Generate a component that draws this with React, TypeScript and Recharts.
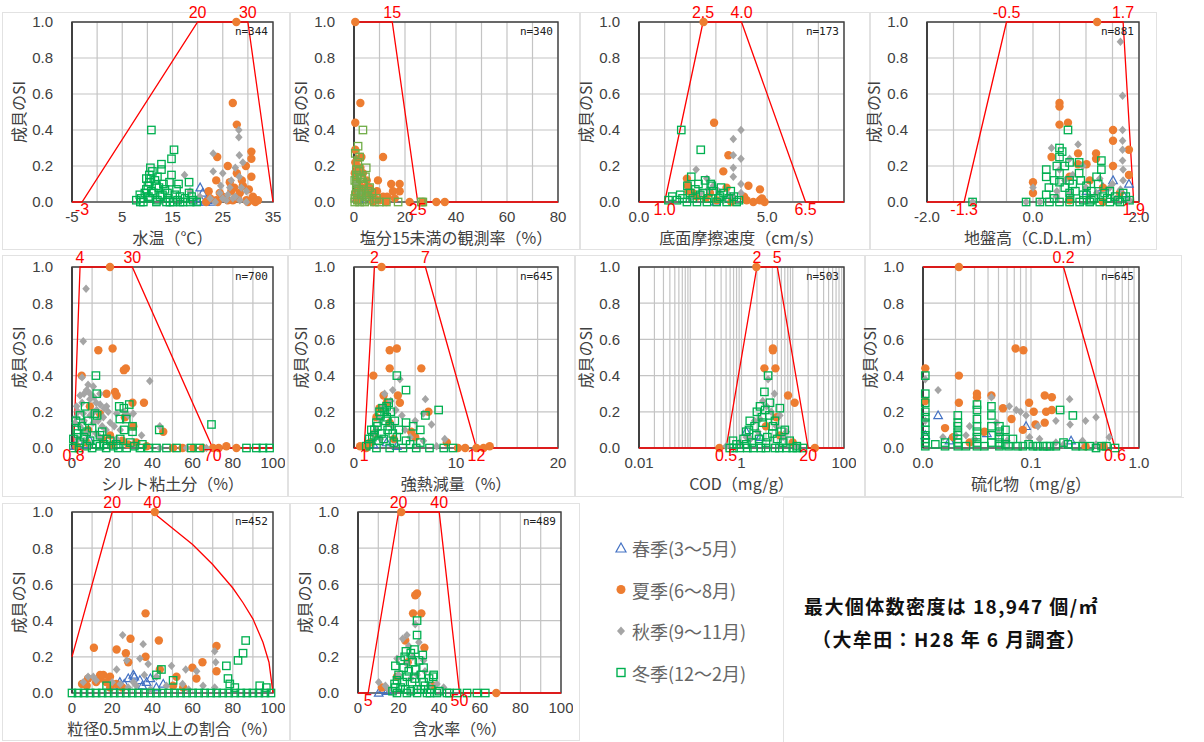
import React from "react";
import {
  ScatterChart,
  Scatter,
  XAxis,
  YAxis,
  CartesianGrid,
  ReferenceArea,
  ReferenceDot,
} from "recharts";

type Pt = [number, number];

const JP = '"Noto Sans CJK JP", "Liberation Sans", sans-serif';
const NUM = '"Liberation Sans", Arial, sans-serif';

const C_SPRING = "#4472C4";
const C_SUMMER = "#ED7D31";
const C_AUTUMN = "#A5A5A5";
const C_WINTER = "#00B050";
const C_SI = "#FF0000";

const yTicks = [0, 0.2, 0.4, 0.6, 0.8, 1.0];
const seasonNames = ["春季(3～5月）", "夏季(6～8月)", "秋季(9～11月)", "冬季(12～2月)"];

// ---------- 1. 水温 ----------
const p1Ticks = [-5, 0, 5, 10, 15, 20, 25, 30, 35];
const p1Labels = [-5, 5, 15, 25, 35];
const p1Si: Pt[] = [[-5, 0], [-3, 0], [20, 1], [30, 1], [35, 0]];
const p1Spring: Pt[] = [[20.5, 0.08], [21, 0.05], [20.5, 0.02], [21.5, 0], [22, 0.01], [20, 0], [23, 0]];
const p1Summer: Pt[] = [[27.7, 1], [27, 0.55], [27.8, 0.43], [30.7, 0.28], [30.7, 0.24], [23.9, 0.25], [29.6, 0.2], [23.7, 0.12], [27.8, 0.16], [26.4, 0.11], [30.7, 0.14], [29, 0.09], [22.2, 0.06], [24.4, 0.05], [26.7, 0.06], [28.4, 0.05], [31, 0.03], [31, 0.01], [29.7, 0.01], [27, 0.01], [23.7, 0.01], [21.7, 0], [25.5, 0.02], [28.8, 0.12], [30.2, 0.07], [22.5, 0.02], [24, 0], [25, 0.03], [26, 0.01], [28, 0.02], [30, 0], [31.5, 0], [32, 0.01], [26, 0.2], [27.3, 0.08]];
const p1Autumn: Pt[] = [[28.2, 0.4], [28.2, 0.36], [23.1, 0.27], [28.3, 0.26], [23.1, 0.17], [17.4, 0.15], [25, 0.16], [26.7, 0.12], [28.3, 0.14], [26.4, 0.08], [24.4, 0.05], [29.7, 0.06], [20.4, 0.03], [27, 0.02], [25.7, 0.01], [28.4, 0.01], [29.7, 0], [22.5, 0.02], [27.5, 0.19], [18.5, 0.06], [23.5, 0], [25, 0.02], [26, 0.04], [27.5, 0.03], [28.7, 0.08], [29, 0.22], [24.6, 0.09]];
const p1Winter: Pt[] = [[10.8, 0.4], [15.3, 0.29], [14.8, 0.24], [12.8, 0.21], [12.8, 0.18], [10.6, 0.19], [10.4, 0.15], [14.8, 0.15], [18.3, 0.11], [14.4, 0.11], [10.4, 0.11], [11.8, 0.09], [9.8, 0.07], [13.5, 0.07], [15.8, 0.07], [18.3, 0.05], [8.5, 0.04], [11.2, 0.05], [16.5, 0.03], [19.1, 0.01], [7.8, 0.01], [9.2, 0], [11.8, 0], [13.8, 0], [15.1, 0], [17.1, 0], [19.8, 0], [10.5, 0.02], [9.8, 0.13], [10.1, 0.09], [12, 0.14], [13, 0.04], [8.8, 0.02], [9.5, 0.05], [10.2, 0.03], [10.8, 0.06], [11.5, 0.12], [12.3, 0.08], [12.5, 0.03], [13.2, 0.1], [14, 0.05], [14.2, 0.02], [15.5, 0.04], [16, 0.01], [17.5, 0.02], [18.8, 0.03], [11, 0.17], [10.7, 0.13], [16.2, 0.1], [12, 0.01], [14.5, 0], [16.5, 0], [18.5, 0], [8.6, 0]];

// ---------- 2. 塩分15未満の観測率 ----------
const p2Ticks = [0, 10, 20, 30, 40, 50, 60, 70, 80];
const p2Labels = [0, 20, 40, 60, 80];
const p2Si: Pt[] = [[0, 1], [15, 1], [25, 0], [80, 0]];
const p2Spring: Pt[] = [[1, 0.02], [2, 0.01]];
const p2Summer: Pt[] = [[0.5, 1], [2.5, 0.55], [0.5, 0.44], [11.4, 0.25], [2.9, 0.25], [0.5, 0.29], [1, 0.2], [3.5, 0.16], [9.4, 0.12], [14.6, 0.1], [17.9, 0.1], [17.9, 0.06], [15.3, 0.06], [6.1, 0.08], [7.5, 0.05], [11.4, 0.03], [21.8, 0], [27, 0], [32.3, 0], [35.6, 0], [12.7, 0], [7.5, 0], [1, 0.01], [1.6, 0.08], [0.3, 0.16], [0.5, 0.05], [1, 0.12], [2, 0.1], [3, 0.05], [4, 0.08], [5, 0.12], [6, 0.04], [8, 0.02], [9, 0.06], [10, 0.01], [1.5, 0.24], [0.5, 0.22], [2.5, 0.19], [13, 0.03], [16, 0.02]];
const p2Autumn: Pt[] = [[0.5, 0.1], [2, 0.05], [4, 0.02]];
const p2Winter: Pt[] = [[3.5, 0.4], [1.6, 0.31], [2.2, 0.25], [4.8, 0.19], [0.9, 0.14], [3.5, 0.11], [6.1, 0.08], [0.9, 0.06], [2.9, 0.04], [4.8, 0.03], [8.8, 0.02], [0.3, 0], [2.2, 0], [12.7, 0], [17.3, 0], [26.4, 0], [27, 0], [4.2, 0], [0.9, 0.09], [0.9, 0.18], [1.5, 0.22], [3, 0.13], [5.5, 0.06], [0.3, 0.02], [0.6, 0.04], [1, 0.11], [1.2, 0.15], [1.8, 0.07], [2.5, 0.13], [3, 0.06], [3.8, 0.09], [4.5, 0.14], [5, 0.03], [6, 0.01], [7, 0.05], [0.5, 0.27], [2, 0.17], [0.3, 0.12], [1.3, 0.01], [3.2, 0.01], [8, 0], [10, 0]];

// ---------- 3. 底面摩擦速度 ----------
const p3Ticks = [0, 1, 2, 3, 4, 5, 6, 7, 8];
const p3Labels = [0, 5];
const p3Si: Pt[] = [[0, 0], [1, 0], [2.5, 1], [4, 1], [6.5, 0], [8, 0]];
const p3Spring: Pt[] = [[3.5, 0.02], [3, 0]];
const p3Summer: Pt[] = [[2.52, 1], [2.93, 0.44], [3.49, 0.26], [3.29, 0.17], [4.72, 0.07], [4.27, 0.09], [1.87, 0.13], [1.93, 0.06], [3.42, 0.08], [4.2, 0.01], [4.46, 0], [4.72, 0.01], [2.77, 0.05], [3.03, 0.01], [2.26, 0.03], [1.9, 0.09], [2.1, 0.05], [4.9, 0], [4.8, 0.02], [2.6, 0.02], [3.6, 0], [4.1, 0.03]];
const p3Autumn: Pt[] = [[3.98, 0.4], [3.68, 0.35], [3.68, 0.26], [3.98, 0.24], [3.68, 0.19], [2.23, 0.18], [3.68, 0.14], [3.98, 0.1], [3.98, 0.05], [2.65, 0.13], [2.9, 0.09], [3.68, 0.03], [3.29, 0.01], [2.4, 0.05], [2.7, 0.07], [3.1, 0.06], [3.5, 0.04], [2, 0.02]];
const p3Winter: Pt[] = [[1.65, 0.4], [2.41, 0.29], [2.04, 0.14], [1.89, 0.09], [2.32, 0.1], [2.58, 0.12], [2.84, 0.09], [3.58, 0.06], [1.15, 0.01], [1.48, 0.01], [1.87, 0], [2.26, 0], [2.65, 0], [3.03, 0], [3.42, 0], [3.81, 0], [3.16, 0.03], [2.39, 0.04], [1.61, 0.04], [1.3, 0.03], [1.7, 0.02], [2, 0.05], [2.2, 0.07], [2.5, 0.05], [2.7, 0.02], [2.9, 0.06], [3.1, 0.02], [3.3, 0.05], [3.5, 0.02], [3.7, 0.03], [3.9, 0.01], [2.1, 0.02], [2.8, 0.1], [3.2, 0.08]];

// ---------- 4. 地盤高 ----------
const p4Ticks = [-2, -1.5, -1, -0.5, 0, 0.5, 1, 1.5, 2];
const p4Labels = [-2, 0, 2];
const p4Si: Pt[] = [[-2, 0], [-1.3, 0], [-0.5, 1], [1.7, 1], [1.9, 0], [2, 0]];
const p4Spring: Pt[] = [[1.51, 0.12], [1.81, 0.1], [1.32, 0.08], [1.01, 0.06], [1.7, 0.04]];
const p4Summer: Pt[] = [[1.21, 1], [0.5, 0.55], [0.5, 0.53], [0.5, 0.43], [0.66, 0.44], [1.51, 0.4], [1.51, 0.34], [1.81, 0.29], [1.51, 0.2], [1.19, 0.27], [1.19, 0.24], [0.85, 0.27], [0.85, 0.21], [1.01, 0.21], [1.81, 0.15], [0, 0.11], [0.35, 0.25], [0.69, 0.14], [1.07, 0.12], [1.32, 0.08], [1.64, 0.05], [0, 0.05], [0.69, 0.01], [1.32, 0]];
const p4Autumn: Pt[] = [[1.65, 0.89], [1.69, 0.59], [1.69, 0.4], [1.69, 0.34], [1.69, 0.29], [1.69, 0.23], [1.7, 0.18], [0.85, 0.32], [0.35, 0.3], [0.69, 0.24], [0.94, 0.2], [1.26, 0.13], [1.45, 0.08], [0, 0.08], [-1.14, 0], [-0.13, 0], [0.13, 0], [0.44, 0.03], [0.69, 0.05], [1.07, 0.03], [1.57, 0.02], [1.82, 0.01], [0.5, 0.18], [0.6, 0.12], [0.75, 0.15], [1, 0.08], [1.2, 0.05], [1.5, 0.1], [1.7, 0.12], [1.65, 0.07], [0.45, 0.06]];
const p4Winter: Pt[] = [[0.66, 0.4], [0.5, 0.3], [0.5, 0.25], [0.69, 0.22], [0.87, 0.22], [1.29, 0.23], [1.29, 0.18], [0.25, 0.18], [0.25, 0.14], [0.5, 0.16], [0.5, 0.11], [0.69, 0.12], [0.87, 0.16], [1.01, 0.09], [1.23, 0.1], [1.45, 0.06], [1.7, 0.05], [-1.14, 0], [-0.13, 0], [0.13, 0], [0.31, 0], [0.5, 0], [0.69, 0], [0.88, 0], [1.07, 0], [1.26, 0], [1.45, 0], [1.64, 0], [1.82, 0.01], [0.25, 0.04], [0.69, 0.05], [1.01, 0.04], [1.32, 0.03], [0.3, 0.08], [0.4, 0.12], [0.45, 0.2], [0.55, 0.28], [0.6, 0.2], [0.6, 0.08], [0.75, 0.1], [0.8, 0.06], [0.9, 0.12], [0.95, 0.04], [1.1, 0.06], [1.15, 0.02], [1.2, 0.14], [1.35, 0.05], [1.4, 0.02], [1.55, 0.03], [1.6, 0.01], [1.75, 0.03], [0.4, 0.02], [0.7, 0.02], [0.95, 0.01], [1.1, 0.01]];

// ---------- 5. シルト粘土分 ----------
const p5Ticks = [0, 10, 20, 30, 40, 50, 60, 70, 80, 90, 100];
const p5Labels = [0, 20, 40, 60, 80, 100];
const p5Si: Pt[] = [[0, 0], [0.8, 0], [4, 1], [30, 1], [70, 0], [100, 0]];
const p5Spring: Pt[] = [[1.5, 0.01], [5.6, 0.02], [8.9, 0.04]];
const p5Summer: Pt[] = [[18.9, 1], [13.1, 0.54], [20.2, 0.55], [26.8, 0.44], [25.8, 0.43], [4.8, 0.4], [21.4, 0.31], [22.2, 0.29], [30.1, 0.25], [35.8, 0.25], [17.2, 0.3], [8.9, 0.23], [13.9, 0.19], [26.3, 0.17], [45.4, 0.09], [30.5, 0.12], [18.9, 0.07], [37.1, 0.01], [50.3, 0], [60.3, 0], [70.2, 0], [76.8, 0.01], [81.8, 0], [7.3, 0.03], [2.3, 0.01], [8, 0.1], [15, 0.05], [20, 0.02], [25, 0.04], [28, 0.02], [32, 0.03], [55, 0], [65, 0], [73, 0]];
const p5Autumn: Pt[] = [[7, 0.88], [5.6, 0.59], [38.7, 0.37], [43.7, 0.12], [34.6, 0.07], [4, 0.29], [7.3, 0.32], [10.6, 0.34], [13.9, 0.3], [8.9, 0.27], [2.3, 0.23], [5.6, 0.19], [12.3, 0.21], [17.2, 0.23], [15.6, 0.17], [10.6, 0.14], [4, 0.12], [1.5, 0.14], [22.2, 0.19], [30.5, 0.19], [7.3, 0.08], [13.9, 0.06], [22.2, 0.05], [43.7, 0], [57, 0], [66.9, 0], [3, 0.2], [5, 0.25], [6, 0.3], [8, 0.35], [9, 0.3], [11, 0.28], [12, 0.25], [14, 0.24], [16, 0.22], [18, 0.2], [6, 0.15], [9, 0.18], [11, 0.2], [13, 0.15], [15, 0.12], [17, 0.1], [19, 0.14], [21, 0.12], [24, 0.1], [26, 0.2], [28, 0.18], [3, 0.05], [6, 0.04], [9, 0.02], [12, 0.08], [5, 0.39], [2, 0.17]];
const p5Winter: Pt[] = [[11.9, 0.4], [12.3, 0.3], [23.5, 0.23], [28.5, 0.24], [25.8, 0.22], [6.5, 0.23], [4, 0.18], [11.4, 0.19], [23.8, 0.16], [30.1, 0.12], [30.1, 0.09], [43.4, 0.1], [69.4, 0.13], [2.3, 0.1], [7.3, 0.09], [13.9, 0.07], [17.2, 0.05], [0.7, 0.05], [4, 0.03], [7.3, 0.01], [13.9, 0.01], [20.5, 0.01], [27.2, 0], [33.8, 0], [42, 0], [47, 0], [52, 0], [59.4, 0], [63.6, 0], [86.8, 0], [91.7, 0], [95, 0], [98.3, 0], [0.7, 0], [2, 0.15], [3, 0.08], [5, 0.12], [6, 0.06], [8, 0.15], [9, 0.04], [10, 0.11], [12, 0.02], [15, 0.09], [16, 0.02], [19, 0.04], [22, 0.02], [24, 0.05], [26, 0.1], [29, 0.03], [31, 0.01], [35, 0.02], [38, 0], [3.5, 0], [10, 0], [17, 0], [23, 0], [12.5, 0.18], [27, 0.16]];

// ---------- 6. 強熱減量 ----------
const p6Ticks = [0, 2, 4, 6, 8, 10, 12, 14, 16, 18, 20];
const p6Labels = [0, 10, 20];
const p6Si: Pt[] = [[0, 0], [1, 0], [2, 1], [7, 1], [12, 0], [20, 0]];
const p6Spring: Pt[] = [[1.9, 0.02], [3.2, 0.03], [4.2, 0.01]];
const p6Summer: Pt[] = [[2.7, 1], [1.9, 0.4], [3.5, 0.54], [4.2, 0.55], [3.5, 0.44], [6.6, 0.44], [2.9, 0.29], [4.3, 0.29], [4.5, 0.25], [7.3, 0.2], [5.6, 0.09], [2.2, 0.17], [3.5, 0.14], [0.6, 0.01], [10.2, 0], [10.9, 0], [12, 0], [12.7, 0], [13.3, 0.01], [9.1, 0.03], [2, 0.08], [2.5, 0.22], [3.2, 0.25], [3.9, 0.05], [1.2, 0], [1.6, 0.03], [6, 0.06]];
const p6Autumn: Pt[] = [[3.8, 0.32], [4.5, 0.38], [7, 0.27], [6.8, 0.19], [7.6, 0.13], [8.9, 0.05], [4.7, 0.18], [2.9, 0.23], [2.5, 0.16], [3.8, 0.12], [5.5, 0.06], [6.8, 0.04], [8.1, 0.01], [1.9, 0.08], [2.2, 0.1], [3, 0.3], [3.2, 0.2], [3.6, 0.26], [4.1, 0.21], [2.6, 0.05], [5, 0.1], [6, 0.15]];
const p6Winter: Pt[] = [[4.2, 0.4], [5.1, 0.32], [3.2, 0.23], [3.4, 0.25], [2.5, 0.2], [8.3, 0.21], [7, 0.18], [5.1, 0.14], [5.8, 0.12], [6.5, 0.1], [1.7, 0.1], [2.2, 0.14], [3.2, 0.17], [3.5, 0.12], [2.7, 0.08], [4.2, 0.06], [1.5, 0.05], [5.1, 0.04], [1.2, 0.01], [2.2, 0], [3.5, 0], [4.8, 0], [6.1, 0], [7.4, 0], [8.8, 0], [9.7, 0], [1.5, 0.02], [1.8, 0.06], [2, 0.1], [2.3, 0.12], [2.6, 0.18], [2.8, 0.22], [3, 0.2], [3.1, 0.15], [3.3, 0.1], [3.6, 0.2], [3.8, 0.08], [4, 0.15], [4.4, 0.1], [2.4, 0.04], [3.9, 0.03], [5.5, 0.02], [6.5, 0.03], [2, 0.07], [2.9, 0.05]];

// ---------- 7. COD (log) ----------
const p7Ticks = [0.01, 0.02, 0.03, 0.04, 0.05, 0.06, 0.07, 0.08, 0.09, 0.1, 0.2, 0.3, 0.4, 0.5, 0.6, 0.7, 0.8, 0.9, 1, 2, 3, 4, 5, 6, 7, 8, 9, 10, 20, 30, 40, 50, 60, 70, 80, 90, 100];
const p7Labels = [0.01, 1, 100];
const p7Si: Pt[] = [[0.01, 0], [0.5, 0], [2, 1], [5, 1], [20, 0], [100, 0]];
const p7Spring: Pt[] = [[1.24, 0.09], [2.3, 0.06]];
const p7Summer: Pt[] = [[1.95, 1], [4.1, 0.55], [4.1, 0.54], [2.8, 0.44], [4.6, 0.44], [8.1, 0.29], [10.9, 0.25], [4.8, 0.17], [5.6, 0.07], [0.37, 0], [27, 0], [10, 0.03], [3, 0.12]];
const p7Autumn: Pt[] = [[3.3, 0.38], [4.4, 0.3], [3.1, 0.23], [5.6, 0.18], [2.3, 0.16], [7.5, 0.09], [1.24, 0.06], [0.92, 0.03], [11.7, 0.01], [0.5, 0.01], [1.8, 0.15], [2.6, 0.26], [3.8, 0.2], [4.8, 0.12], [2.1, 0.09], [1.5, 0.05], [6.5, 0.06]];
const p7Winter: Pt[] = [[3.3, 0.4], [2.8, 0.31], [3.6, 0.25], [2.3, 0.23], [5.6, 0.22], [1.45, 0.15], [1.24, 0.09], [2.6, 0.14], [4.1, 0.12], [6, 0.09], [1.95, 0.07], [0.68, 0.04], [8.7, 0.04], [0.59, 0], [0.92, 0], [1.7, 0], [3, 0], [5.5, 0], [10, 0], [15.8, 0], [1.24, 0.02], [3, 0.03], [0.8, 0.02], [1.1, 0.05], [1.4, 0.1], [1.8, 0.12], [2, 0.2], [2.5, 0.17], [2.9, 0.21], [3.5, 0.18], [4, 0.08], [4.5, 0.15], [5, 0.05], [6.5, 0.03], [7, 0.1], [1.6, 0.03], [2.2, 0.05], [3.2, 0.06], [12, 0.01], [0.7, 0], [1.3, 0], [2.4, 0], [4.5, 0], [7.5, 0], [12, 0]];

// ---------- 8. 硫化物 (log) ----------
const p8Ticks = [0.01, 0.02, 0.03, 0.04, 0.05, 0.06, 0.07, 0.08, 0.09, 0.1, 0.2, 0.3, 0.4, 0.5, 0.6, 0.7, 0.8, 0.9, 1];
const p8Labels = [0.01, 0.1, 1];
const p8Si: Pt[] = [[0.01, 1], [0.2, 1], [0.6, 0], [1, 0]];
const p8Spring: Pt[] = [[0.0138, 0.18], [0.0105, 0.07], [0.09, 0.12], [0.235, 0.04], [0.039, 0.08], [0.0176, 0.04]];
const p8Summer: Pt[] = [[0.0215, 1], [0.0105, 0.44], [0.0215, 0.4], [0.0215, 0.25], [0.0105, 0.26], [0.072, 0.55], [0.085, 0.54], [0.0316, 0.3], [0.0316, 0.28], [0.043, 0.29], [0.055, 0.22], [0.096, 0.25], [0.106, 0.2], [0.134, 0.29], [0.156, 0.28], [0.138, 0.2], [0.156, 0.21], [0.134, 0.14], [0.11, 0.13], [0.066, 0.16], [0.016, 0.11], [0.019, 0.06], [0.037, 0.09], [0.084, 0.1], [0.32, 0.01], [0.47, 0.01], [0.027, 0.03]];
const p8Autumn: Pt[] = [[0.0138, 0.32], [0.0105, 0.38], [0.025, 0.07], [0.043, 0.28], [0.063, 0.23], [0.073, 0.21], [0.228, 0.27], [0.17, 0.15], [0.23, 0.13], [0.32, 0.15], [0.4, 0.17], [0.53, 0.06], [0.116, 0.12], [0.048, 0.14], [0.027, 0.12], [0.0153, 0.06], [0.097, 0.06], [0.17, 0.03], [0.0105, 0.15], [0.02, 0.07], [0.03, 0.05], [0.05, 0.08], [0.06, 0.04], [0.08, 0.2], [0.09, 0.18], [0.12, 0.05], [0.2, 0.02], [0.3, 0.04], [0.4, 0.02]];
const p8Winter: Pt[] = [[0.0105, 0.4], [0.0105, 0.3], [0.0105, 0.25], [0.0105, 0.17], [0.0105, 0.1], [0.0105, 0.05], [0.0105, 0.01], [0.021, 0.18], [0.021, 0.14], [0.021, 0.09], [0.021, 0.05], [0.021, 0.01], [0.0316, 0.24], [0.0316, 0.21], [0.0316, 0.12], [0.0316, 0.06], [0.0316, 0.01], [0.043, 0.23], [0.043, 0.18], [0.051, 0.12], [0.051, 0.06], [0.051, 0.01], [0.016, 0.03], [0.068, 0.05], [0.084, 0.01], [0.104, 0.01], [0.13, 0.01], [0.15, 0.01], [0.186, 0.21], [0.244, 0.18], [0.2, 0.03], [0.3, 0.01], [0.4, 0], [0.6, 0], [0.0105, 0.14], [0.0105, 0.2], [0.0105, 0.07], [0.0105, 0.03], [0.021, 0.12], [0.021, 0.07], [0.021, 0.03], [0.0316, 0.16], [0.0316, 0.09], [0.0316, 0.03], [0.043, 0.12], [0.043, 0.07], [0.043, 0.03], [0.051, 0.09], [0.051, 0.03], [0.058, 0.1], [0.058, 0.05], [0.058, 0.02], [0.013, 0.02], [0.016, 0.01], [0.025, 0.01], [0.037, 0.01], [0.062, 0.01], [0.075, 0.01], [0.095, 0.02], [0.115, 0.01], [0.14, 0.01], [0.17, 0.01], [0.22, 0.02], [0.26, 0.01], [0.35, 0.01], [0.45, 0.01], [0.5, 0.01]];

// ---------- 9. 粒径0.5mm以上の割合 ----------
const p9Ticks = [0, 10, 20, 30, 40, 50, 60, 70, 80, 90, 100];
const p9Labels = [0, 20, 40, 60, 80, 100];
const p9Si: Pt[] = [[0, 0.2], [20, 1], [40, 1], [50, 0.91], [60, 0.82], [70, 0.71], [80, 0.58], [85, 0.5], [90, 0.41], [95, 0.28], [98, 0.17], [100, 0]];
const p9Spring: Pt[] = [[30.5, 0.1], [28, 0.08], [33.8, 0.07], [37.1, 0.06], [23.8, 0.06], [45.4, 0.05], [20.5, 0.04], [26, 0.05], [31, 0.09], [35, 0.04], [39, 0.08], [42, 0.03]];
const p9Summer: Pt[] = [[41.2, 1], [36.6, 0.44], [43.2, 0.29], [29.1, 0.3], [10.9, 0.25], [22.2, 0.24], [26.8, 0.22], [36.6, 0.2], [71.9, 0.26], [64.9, 0.17], [59.9, 0.14], [61.9, 0.08], [28, 0.17], [15.6, 0.1], [18.9, 0.09], [13.9, 0.08], [7.3, 0.04], [71.9, 0.12], [52, 0.09], [43.7, 0.13], [55.3, 0.03], [50.3, 0.04], [5, 0.05], [8, 0.08], [12, 0.06], [14, 0.1], [17, 0.06], [19, 0.03], [22, 0.05], [25, 0.03]];
const p9Autumn: Pt[] = [[25.2, 0.32], [35.4, 0.27], [33.8, 0.19], [27.2, 0.18], [22.2, 0.13], [37.9, 0.16], [49.5, 0.15], [56.6, 0.13], [71, 0.23], [71.5, 0.17], [10.6, 0.09], [5.6, 0.06], [30.5, 0.06], [42, 0.09], [47, 0.04], [65.2, 0.04], [71, 0.03], [8, 0.09], [12, 0.07], [20, 0.06], [24, 0.05], [28, 0.03], [32, 0.04], [36, 0.1], [39, 0.02], [55, 0.05], [58, 0.02], [62, 0.12]];
const p9Winter: Pt[] = [[86.4, 0.29], [85.1, 0.22], [82.6, 0.18], [76.8, 0.15], [77.6, 0.08], [78.5, 0.05], [42, 0.1], [44.5, 0.13], [50.3, 0.07], [17.2, 0.04], [93.4, 0.04], [96.7, 0.03], [81, 0.03], [0, 0], [3, 0], [6, 0], [9, 0], [12, 0], [15, 0], [18, 0], [21, 0], [24, 0], [27, 0], [30, 0], [33, 0], [36, 0], [39, 0], [42, 0], [45, 0], [48, 0], [51, 0], [54, 0], [57, 0], [60, 0], [63, 0], [66, 0], [69, 0], [72, 0], [75, 0], [78, 0], [81, 0], [84, 0], [87, 0], [90, 0], [93, 0], [96, 0], [99, 0]];

// ---------- 10. 含水率 ----------
const p10Ticks = [0, 10, 20, 30, 40, 50, 60, 70, 80, 90, 100];
const p10Labels = [0, 20, 40, 60, 80, 100];
const p10Si: Pt[] = [[0, 0], [5, 0], [20, 1], [40, 1], [50, 0], [100, 0]];
const p10Spring: Pt[] = [[10.2, 0], [12.3, 0.02], [14.3, 0.01]];
const p10Summer: Pt[] = [[21.3, 1], [29.1, 0.55], [28.2, 0.54], [27.1, 0.44], [31.2, 0.44], [23.3, 0.29], [32.7, 0.25], [24.5, 0.17], [11.8, 0.03], [68.1, 0], [37.3, 0.04], [19.2, 0.09]];
const p10Autumn: Pt[] = [[24.1, 0.32], [28.2, 0.38], [19.2, 0.19], [24.1, 0.16], [10.2, 0.06], [13.5, 0.04], [38.9, 0.05], [32.3, 0.18], [29.1, 0.1], [42.2, 0.03], [22, 0.3], [25, 0.26], [27, 0.2], [30, 0.28], [20, 0.1], [26, 0.08], [33, 0.12], [35, 0.04], [15, 0.02]];
const p10Winter: Pt[] = [[29.1, 0.4], [29.1, 0.32], [23.6, 0.23], [27.8, 0.24], [31.9, 0.21], [18.4, 0.15], [22.5, 0.14], [28.2, 0.13], [32.3, 0.14], [37.3, 0.1], [37, 0.09], [24.1, 0.09], [19.2, 0.07], [26.6, 0.06], [32.3, 0.06], [18.4, 0.03], [23.3, 0.02], [29.1, 0.02], [19.2, 0], [24.1, 0], [29.1, 0], [34, 0], [38.9, 0], [43.8, 0], [48.8, 0], [53.7, 0], [58.6, 0], [62.7, 0], [18, 0.05], [20, 0.1], [21, 0.18], [22, 0.06], [23, 0.2], [25, 0.12], [26, 0.22], [27, 0.17], [28, 0.08], [30, 0.18], [31, 0.1], [33, 0.04], [35, 0.08], [36, 0.02], [17, 0.01], [21, 0.03], [26, 0.01], [31, 0.02], [35.5, 0], [40, 0.01], [45, 0]];

const toXY = (a: Pt[]) => a.map(([x, y]) => ({ x, y }));

const TriShape = (p: any) => (
  <path d={`M${p.cx},${p.cy - 4.5}L${p.cx + 4.3},${p.cy + 3.2}L${p.cx - 4.3},${p.cy + 3.2}Z`} fill="none" stroke={C_SPRING} strokeWidth={1.2} />
);
const CircleShape = (p: any) => <circle cx={p.cx} cy={p.cy} r={4.2} fill={C_SUMMER} />;
const DiamondShape = (p: any) => (
  <path d={`M${p.cx},${p.cy - 4.2}L${p.cx + 3.8},${p.cy}L${p.cx},${p.cy + 4.2}L${p.cx - 3.8},${p.cy}Z`} fill={C_AUTUMN} />
);
const squareShape = (c: string) => (p: any) => (
  <rect x={p.cx - 3.7} y={p.cy - 3.7} width={7.4} height={7.4} fill="none" stroke={c} strokeWidth={1.3} />
);
const NoShape = () => <g />;

interface PanelCfg {
  left: number;
  top: number;
  w: number;
  h: number;
  domain: [number, number];
  ticks: number[];
  labels: number[];
  fmt: (v: number) => string;
  log?: boolean;
  si: Pt[];
  spring: Pt[];
  summer: Pt[];
  autumn: Pt[];
  winter: Pt[];
  winterColor?: string;
  topMarks: [number, string][];
  bottomMarks: [number, string][];
  xLabel: string;
  n: number;
}

function Panel(p: PanelCfg) {
  const W = p.w + 84;
  const H = p.h + 22 + 50;
  const show = (v: number) => p.labels.some((l) => Math.abs(l - v) < Math.abs(l) * 1e-6 + 1e-9);
  return (
    <div style={{ position: "absolute", left: p.left - 72, top: p.top - 22 }}>
      <ScatterChart width={W} height={H} margin={{ top: 22, right: 12, bottom: 0, left: 0 }}>
        <CartesianGrid stroke="#c4c4c4" strokeWidth={1.2} />
        <XAxis
          type="number"
          dataKey="x"
          domain={p.domain}
          scale={p.log ? "log" : "linear"}
          ticks={p.ticks}
          interval={0}
          tickFormatter={(v: number) => (show(v) ? p.fmt(v) : "")}
          tickLine={false}
          axisLine={{ stroke: "#808080" }}
          tick={{ fontSize: 15, fill: "#404040", fontFamily: NUM }}
          tickMargin={3}
          height={50}
          label={{ value: p.xLabel, position: "insideBottom", offset: 8, fontSize: 16, fill: "#404040", fontFamily: JP }}
        />
        <YAxis
          type="number"
          dataKey="y"
          domain={[0, 1]}
          ticks={yTicks}
          interval={0}
          width={72}
          tickFormatter={(v: number) => v.toFixed(1)}
          tickLine={false}
          axisLine={{ stroke: "#404040", strokeWidth: 2 }}
          tick={{ fontSize: 15, fill: "#404040", fontFamily: NUM }}
          tickMargin={13}
          label={{
            content: (lp: any) => {
              const vb = lp.viewBox || { x: 0, y: 22, width: 72, height: p.h };
              const cx = vb.x + 18;
              const cy = vb.y + vb.height / 2;
              return (
                <text x={cx} y={cy} transform={`rotate(-90, ${cx}, ${cy})`} textAnchor="middle" dominantBaseline="central" fontSize={16} fill="#404040" fontFamily={JP}>
                  成貝のSI
                </text>
              );
            },
          }}
        />
        <ReferenceArea
          x1={p.domain[0]}
          x2={p.domain[1]}
          y1={0}
          y2={1}
          fill="none"
          stroke="#404040"
          strokeWidth={1.4}
          label={{ value: `n=${p.n}`, position: "insideTopRight", offset: 5, fontSize: 11, fill: "#202020", fontFamily: '"DejaVu Sans Mono", monospace' }}
        />
        <Scatter data={toXY(p.si)} line={{ stroke: C_SI, strokeWidth: 1.3 }} shape={NoShape} isAnimationActive={false} />
        <Scatter data={toXY(p.spring)} shape={TriShape} isAnimationActive={false} />
        <Scatter data={toXY(p.summer)} shape={CircleShape} isAnimationActive={false} />
        <Scatter data={toXY(p.autumn)} shape={DiamondShape} isAnimationActive={false} />
        <Scatter data={toXY(p.winter)} shape={squareShape(p.winterColor || C_WINTER)} isAnimationActive={false} />
        {p.topMarks.map(([v, t]) => (
          <ReferenceDot key={`t${t}`} x={v} y={1} r={0} fill="none" stroke="none"
            label={{ value: t, position: "top", offset: 4, fontSize: 16, fill: C_SI, fontFamily: NUM }} />
        ))}
        {p.bottomMarks.map(([v, t]) => (
          <ReferenceDot key={`b${t}`} x={v} y={0} r={0} fill="none" stroke="none"
            label={{ value: t, position: "bottom", offset: 2, fontSize: 16, fill: C_SI, fontFamily: NUM }} />
        ))}
      </ScatterChart>
    </div>
  );
}

const intFmt = (v: number) => String(v);
const oneFmt = (v: number) => v.toFixed(1);

const panels: PanelCfg[] = [
  { left: 72, top: 22, w: 201, h: 180, domain: [-5, 35], ticks: p1Ticks, labels: p1Labels, fmt: intFmt, si: p1Si, spring: p1Spring, summer: p1Summer, autumn: p1Autumn, winter: p1Winter, topMarks: [[20, "20"], [30, "30"]], bottomMarks: [[-3, "-3"]], xLabel: "水温（℃）", n: 344 },
  { left: 354, top: 22, w: 204, h: 180, domain: [0, 80], ticks: p2Ticks, labels: p2Labels, fmt: intFmt, si: p2Si, spring: p2Spring, summer: p2Summer, autumn: p2Autumn, winter: p2Winter, winterColor: "#70AD47", topMarks: [[15, "15"]], bottomMarks: [[25, "25"]], xLabel: "塩分15未満の観測率（%）", n: 340 },
  { left: 639, top: 22, w: 205, h: 180, domain: [0, 8], ticks: p3Ticks, labels: p3Labels, fmt: oneFmt, si: p3Si, spring: p3Spring, summer: p3Summer, autumn: p3Autumn, winter: p3Winter, topMarks: [[2.5, "2.5"], [4, "4.0"]], bottomMarks: [[1, "1.0"], [6.5, "6.5"]], xLabel: "底面摩擦速度（cm/s）", n: 173 },
  { left: 927, top: 22, w: 212, h: 180, domain: [-2, 2], ticks: p4Ticks, labels: p4Labels, fmt: oneFmt, si: p4Si, spring: p4Spring, summer: p4Summer, autumn: p4Autumn, winter: p4Winter, topMarks: [[-0.5, "-0.5"], [1.7, "1.7"]], bottomMarks: [[-1.3, "-1.3"], [1.9, "1.9"]], xLabel: "地盤高（C.D.L.m）", n: 881 },
  { left: 72, top: 267, w: 201, h: 181, domain: [0, 100], ticks: p5Ticks, labels: p5Labels, fmt: intFmt, si: p5Si, spring: p5Spring, summer: p5Summer, autumn: p5Autumn, winter: p5Winter, topMarks: [[4, "4"], [30, "30"]], bottomMarks: [[0.8, "0.8"], [70, "70"]], xLabel: "シルト粘土分（%）", n: 700 },
  { left: 354, top: 267, w: 204, h: 181, domain: [0, 20], ticks: p6Ticks, labels: p6Labels, fmt: intFmt, si: p6Si, spring: p6Spring, summer: p6Summer, autumn: p6Autumn, winter: p6Winter, topMarks: [[2, "2"], [7, "7"]], bottomMarks: [[1, "1"], [12, "12"]], xLabel: "強熱減量（%）", n: 645 },
  { left: 639, top: 267, w: 205, h: 181, domain: [0.01, 100], ticks: p7Ticks, labels: p7Labels, fmt: intFmt, log: true, si: p7Si, spring: p7Spring, summer: p7Summer, autumn: p7Autumn, winter: p7Winter, topMarks: [[2, "2"], [5, "5"]], bottomMarks: [[0.5, "0.5"], [20, "20"]], xLabel: "COD（mg/g）", n: 503 },
  { left: 923, top: 267, w: 216, h: 181, domain: [0.01, 1], ticks: p8Ticks, labels: p8Labels, fmt: oneFmt, log: true, si: p8Si, spring: p8Spring, summer: p8Summer, autumn: p8Autumn, winter: p8Winter, topMarks: [[0.2, "0.2"]], bottomMarks: [[0.6, "0.6"]], xLabel: "硫化物（mg/g）", n: 645 },
  { left: 72, top: 512, w: 201, h: 181, domain: [0, 100], ticks: p9Ticks, labels: p9Labels, fmt: intFmt, si: p9Si, spring: p9Spring, summer: p9Summer, autumn: p9Autumn, winter: p9Winter, topMarks: [[20, "20"], [40, "40"]], bottomMarks: [], xLabel: "粒径0.5mm以上の割合（%）", n: 452 },
  { left: 358, top: 512, w: 203, h: 181, domain: [0, 100], ticks: p10Ticks, labels: p10Labels, fmt: intFmt, si: p10Si, spring: p10Spring, summer: p10Summer, autumn: p10Autumn, winter: p10Winter, topMarks: [[20, "20"], [40, "40"]], bottomMarks: [[5, "5"], [50, "50"]], xLabel: "含水率（%）", n: 489 },
];

const boxes = [
  [2, 12, 288, 238], [290, 12, 290, 238], [580, 12, 290, 238], [870, 12, 287, 238],
  [2, 255, 286, 242], [288, 255, 287, 242], [575, 255, 290, 242], [865, 255, 317, 242],
  [2, 503, 288, 238], [290, 503, 290, 238],
];

function LegendBox() {
  const rows = [0, 1, 2, 3];
  const mark = (i: number, cx: number, cy: number) => {
    if (i === 0) return <path d={`M${cx},${cy - 5}L${cx + 5},${cy + 4}L${cx - 5},${cy + 4}Z`} fill="none" stroke={C_SPRING} strokeWidth={1.2} />;
    if (i === 1) return <circle cx={cx} cy={cy} r={4.5} fill={C_SUMMER} />;
    if (i === 2) return <path d={`M${cx},${cy - 4.5}L${cx + 4},${cy}L${cx},${cy + 4.5}L${cx - 4},${cy}Z`} fill={C_AUTUMN} />;
    return <rect x={cx - 4} y={cy - 4} width={8} height={8} fill="none" stroke={C_WINTER} strokeWidth={1.4} />;
  };
  return (
    <svg style={{ position: "absolute", left: 600, top: 520 }} width={180} height={180}>
      {rows.map((i) => (
        <g key={i}>
          {mark(i, 21, 28 + i * 41.5)}
          <text x={32} y={28 + i * 41.5} dominantBaseline="central" fontSize={18} fill="#666" fontFamily={JP}>
            {seasonNames[i]}
          </text>
        </g>
      ))}
    </svg>
  );
}

export default function App() {
  return (
    <div style={{ position: "absolute", left: 0, top: 0, width: 1204, height: 742, background: "#fff", overflow: "hidden" }}>
      {boxes.map(([x, y, w, h], i) => (
        <div key={i} style={{ position: "absolute", left: x, top: y, width: w, height: h, border: "1px solid #e2e2e2", boxSizing: "border-box" }} />
      ))}
      <div style={{ position: "absolute", left: 783, top: 497, width: 400, height: 260, borderLeft: "1px solid #e2e2e2", borderTop: "1px solid #e2e2e2" }} />
      {panels.map((p, i) => (
        <Panel key={i} {...p} />
      ))}
      <LegendBox />
      <div style={{ position: "absolute", left: 804, top: 589, fontFamily: JP, fontWeight: 700, fontSize: 19, letterSpacing: 1.4, color: "#111", whiteSpace: "nowrap", lineHeight: "33px" }}>
        <div>最大個体数密度は 18,947 個/㎡</div>
        <div style={{ paddingLeft: 8 }}>（大牟田：H28 年 6 月調査）</div>
      </div>
    </div>
  );
}
